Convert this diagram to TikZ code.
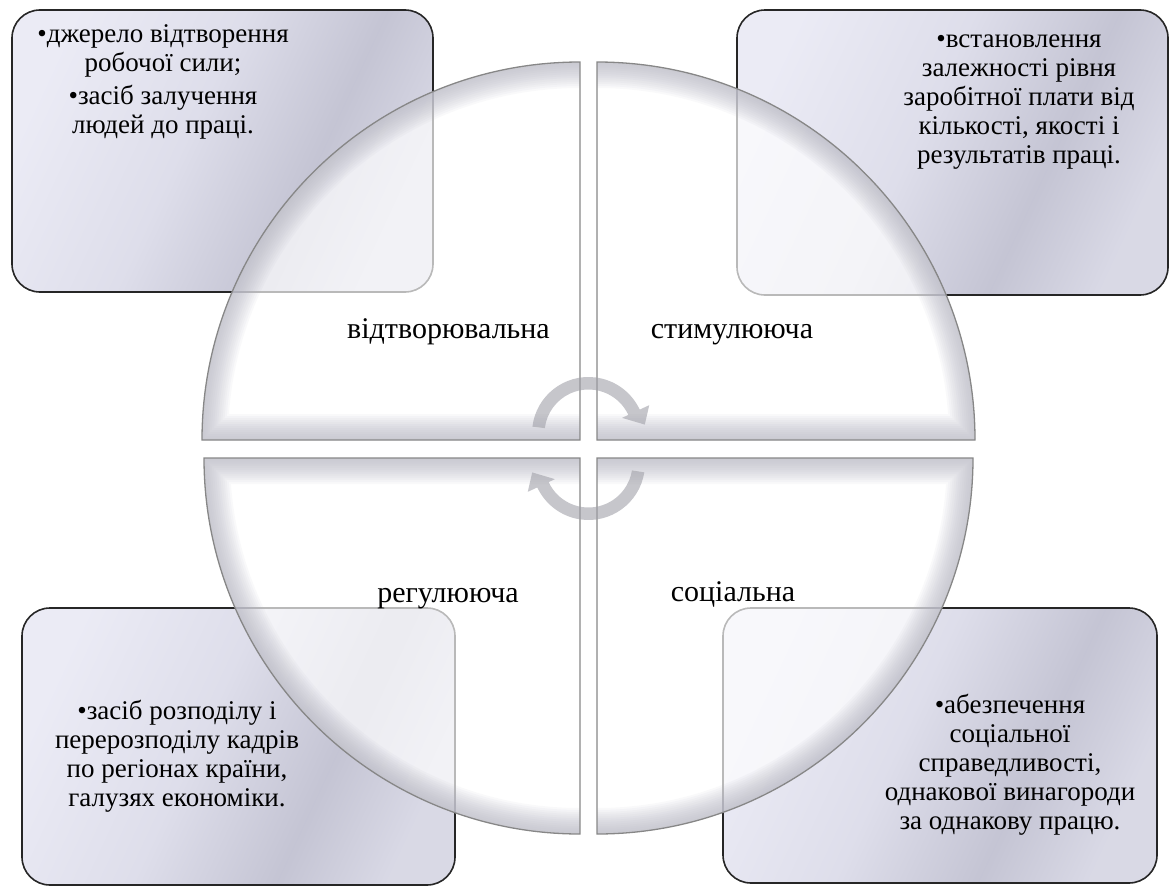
\documentclass[tikz,border=0pt]{standalone}
\usepackage{fontspec}
\setmainfont{Liberation Serif}
\definecolor{qline}{RGB}{135,135,135}
\definecolor{bandcol}{RGB}{175,175,188}
\definecolor{arrowcol}{RGB}{160,160,168}
\pgfdeclarehorizontalshading{boxshade}{100bp}{rgb(0bp)=(0.92,0.92,0.96); rgb(25bp)=(0.92,0.92,0.96); rgb(45bp)=(0.87,0.87,0.92); rgb(62bp)=(0.77,0.77,0.83); rgb(75bp)=(0.85,0.85,0.90); rgb(100bp)=(0.85,0.85,0.90)}
\def\quadTL{(580,440) -- (580,62) arc[start angle=270,end angle=180,radius=378] -- cycle}
\def\quadTR{(597,440) -- (597,62) arc[start angle=270,end angle=360,radius=378] -- cycle}
\def\quadBL{(580,458) -- (580,834) arc[start angle=90,end angle=180,radius=376] -- cycle}
\def\quadBR{(597,458) -- (597,834) arc[start angle=90,end angle=0,radius=376] -- cycle}
\def\bandTL{(580,62) arc[start angle=270,end angle=180,radius=378] -- (580,440)}
\def\bandTR{(597,62) arc[start angle=270,end angle=360,radius=378] -- (597,440)}
\def\bandBL{(580,834) arc[start angle=90,end angle=180,radius=376] -- (580,458)}
\def\bandBR{(597,834) arc[start angle=90,end angle=0,radius=376] -- (597,458)}
\begin{document}
\begin{tikzpicture}[x=1pt,y=-1pt,
  fbox/.style={draw=black!85, line width=1.6pt, rounded corners=28pt, shading=boxshade, shading angle=-25, inner sep=0pt},
  btext/.style={align=center, font=\fontsize{27}{29}\selectfont, inner sep=0pt},
  qlabel/.style={font=\fontsize{30}{33}\selectfont, inner sep=0pt, anchor=base},
  quad/.style={fill=white, fill opacity=0.68},
  band/.style={draw=bandcol, draw opacity=0.07},
  arrowshape/.style={fill=arrowcol, fill opacity=0.6, draw=none}]
\useasboundingbox (0,0) rectangle (1170,886);
% corner boxes
\node[fbox, minimum width=421pt, minimum height=282pt] (b1) at (222.5,151) {};
\node[fbox, minimum width=431pt, minimum height=285pt] (b2) at (952.5,152.5) {};
\node[fbox, minimum width=433pt, minimum height=277pt] (b3) at (238.5,746.5) {};
\node[fbox, minimum width=434pt, minimum height=275pt] (b4) at (940,745.5) {};
% quadrants
\path[quad] \quadTL;
\path[quad] \quadTR;
\path[quad] \quadBL;
\path[quad] \quadBR;
\begin{scope}\clip \quadTL; \foreach \w in {52,48,...,4} {\draw[band, line width=\w pt] \bandTL;}\end{scope}
\begin{scope}\clip \quadTR; \foreach \w in {52,48,...,4} {\draw[band, line width=\w pt] \bandTR;}\end{scope}
\begin{scope}\clip \quadBL; \foreach \w in {52,48,...,4} {\draw[band, line width=\w pt] \bandBL;}\end{scope}
\begin{scope}\clip \quadBR; \foreach \w in {52,48,...,4} {\draw[band, line width=\w pt] \bandBR;}\end{scope}
\draw[qline, line width=1.3pt] \quadTL;
\draw[qline, line width=1.3pt] \quadTR;
\draw[qline, line width=1.3pt] \quadBL;
\draw[qline, line width=1.3pt] \quadBR;
% circular arrows
\begin{scope}[shift={(588.5,433.5)}]
\path[arrowshape] (187:56.5) arc[start angle=187,end angle=335,radius=56.5] -- (335:67) -- (351:57) -- (335:37) -- (335:44) arc[start angle=335,end angle=187,radius=44] -- cycle;
\end{scope}
\begin{scope}[shift={(588.5,463.5)}]
\path[arrowshape] (9:56.5) arc[start angle=9,end angle=155,radius=56.5] -- (155:67) -- (171:57) -- (155:37) -- (155:44) arc[start angle=155,end angle=9,radius=44] -- cycle;
\end{scope}
% labels
\node[qlabel] (l1) at (448.5,338) {відтворювальна};
\node[qlabel] (l2) at (732,338) {стимулююча};
\node[qlabel] (l3) at (448,602) {регулююча};
\node[qlabel] (l4) at (733,601) {соціальна};
% box texts
\node[btext] (t1) at (163,82) {•джерело відтворення\\ робочої сили;\\[4pt] •засіб залучення\\ людей до праці.};
\node[btext] (t2) at (1019,102) {•встановлення\\ залежності рівня\\ заробітної плати від\\ кількості, якості і\\ результатів праці.};
\node[btext] (t3) at (177,756) {•засіб розподілу і\\ перерозподілу кадрів\\ по регіонах країни,\\ галузях економіки.};
\node[btext] (t4) at (1010,765) {•абезпечення\\ соціальної\\ справедливості,\\ однакової винагороди\\ за однакову працю.};
\end{tikzpicture}
\end{document}
